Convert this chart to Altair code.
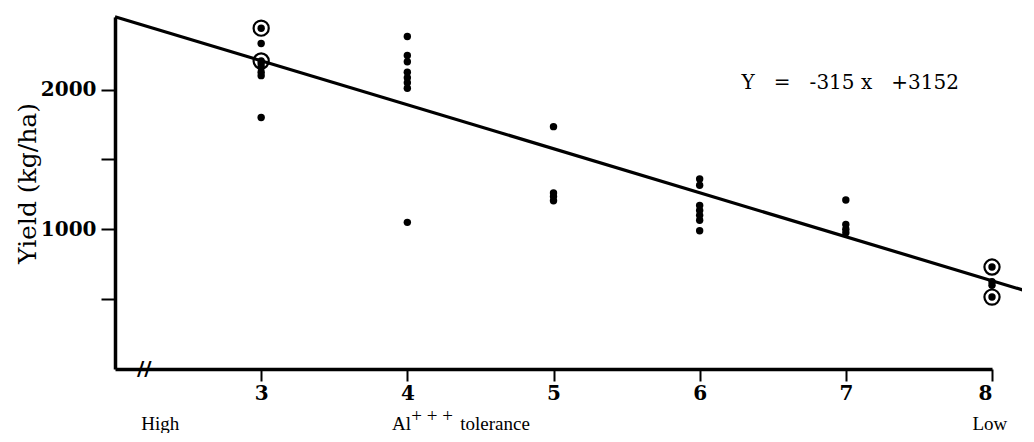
import altair as alt
import pandas as pd

# ---- data ----
tolerance = [3, 3, 3, 3, 3, 3, 3, 3,
             4, 4, 4, 4, 4, 4, 4, 4,
             5, 5, 5, 5,
             6, 6, 6, 6, 6, 6, 6,
             7, 7, 7, 7,
             8, 8, 8, 8]
yield_kg = [2440, 2330, 2205, 2185, 2160, 2125, 2100, 1800,
            2380, 2245, 2200, 2125, 2085, 2050, 2010, 1050,
            1735, 1260, 1235, 1205,
            1360, 1315, 1170, 1135, 1100, 1065, 990,
            1210, 1035, 1000, 975,
            730, 625, 600, 515]
circled = [True, False, True, False, False, False, False, False,
           False, False, False, False, False, False, False, False,
           False, False, False, False,
           False, False, False, False, False, False, False,
           False, False, False, False,
           True, False, False, True]

slope = -315
intercept = 3152
line_x = [2.0, 8.25]

x_ticks = [3, 4, 5, 6, 7, 8]
y_ticks = [500, 1000, 1500, 2000]

notes_text = ["High", "Al", "+ + +", "tolerance", "Low"]
notes_x = [2.31, 3.96, 4.17, 4.6, 7.985]
notes_y = [-392, -392, -335, -392, -392]

SP = "\u00a0\u00a0\u00a0"
eq_text = ["Y" + SP + "=" + SP + str(slope) + " x" + SP + "+" + str(intercept)]
eq_x = [7.03]
eq_y = [2045]

brk_text = ["//"]
brk_x = [2.2]
brk_y = [0]

# ---- tables ----
pts = pd.DataFrame({"x": tolerance, "y": yield_kg, "c": circled})
ring = pts[pts["c"]]
reg = pd.DataFrame({"x": line_x, "y": [slope * v + intercept for v in line_x]})
notes = pd.DataFrame({"t": notes_text, "x": notes_x, "y": notes_y})
eq = pd.DataFrame({"t": eq_text, "x": eq_x, "y": eq_y})
brk = pd.DataFrame({"t": brk_text, "x": brk_x, "y": brk_y})

xs = alt.Scale(domain=[2, 8], nice=False, zero=False)
ys = alt.Scale(domain=[0, 2520], nice=False, zero=False)

xaxis = alt.Axis(values=x_ticks, title=None, grid=False, format="d",
                 domainColor="black", domainWidth=3.5, tickColor="black",
                 tickWidth=2, tickSize=12, labelFont="DejaVu Serif",
                 labelFontSize=20, labelFontWeight="bold",
                 labelColor="black", labelPadding=2)
yaxis = alt.Axis(values=y_ticks, title="Yield (kg/ha)", grid=False, format="d",
                 labelExpr="datum.value % 1000 == 0 ? datum.label : ''",
                 domainColor="black", domainWidth=3.5, tickColor="black",
                 tickWidth=2, tickSize=14, labelFont="DejaVu Serif",
                 labelFontSize=20, labelFontWeight="bold", labelColor="black",
                 labelPadding=5, titleFont="DejaVu Serif", titleFontSize=25,
                 titleFontWeight="normal", titleColor="black",
                 titleX=-88, titleY=166, titleAngle=-90, titleAlign="center",
                 titleBaseline="middle")

dots = alt.Chart(pts).mark_point(filled=True, color="black", size=55, opacity=1).encode(
    x=alt.X("x:Q", scale=xs, axis=xaxis),
    y=alt.Y("y:Q", scale=ys, axis=yaxis),
)
rings = alt.Chart(ring).mark_point(filled=False, color="black", size=230,
                                   strokeWidth=2.2, opacity=1).encode(
    x=alt.X("x:Q", scale=xs), y=alt.Y("y:Q", scale=ys))
line = alt.Chart(reg).mark_line(color="black", strokeWidth=3.2, clip=False).encode(
    x=alt.X("x:Q", scale=xs), y=alt.Y("y:Q", scale=ys))
note_layer = alt.Chart(notes).mark_text(font="Liberation Serif", fontSize=19,
                                        color="black", baseline="middle").encode(
    x=alt.X("x:Q", scale=xs), y=alt.Y("y:Q", scale=ys), text="t:N")
eq_layer = alt.Chart(eq).mark_text(font="DejaVu Serif", fontSize=20,
                                   color="black", baseline="middle").encode(
    x=alt.X("x:Q", scale=xs), y=alt.Y("y:Q", scale=ys), text="t:N")
brk_layer = alt.Chart(brk).mark_text(font="DejaVu Sans", fontSize=20, fontWeight="bold",
                                     color="black", baseline="middle").encode(
    x=alt.X("x:Q", scale=xs), y=alt.Y("y:Q", scale=ys), text="t:N")

chart = alt.layer(line, dots, rings, note_layer, eq_layer, brk_layer).properties(
    width=877, height=352,
    padding={"left": 107, "top": 9, "right": 30, "bottom": 64},
    autosize=alt.AutoSizeParams(type="none"),
    background="white",
).configure_view(stroke=None)

chart.save("out.html", embed_options={"renderer": "svg", "actions": False})
